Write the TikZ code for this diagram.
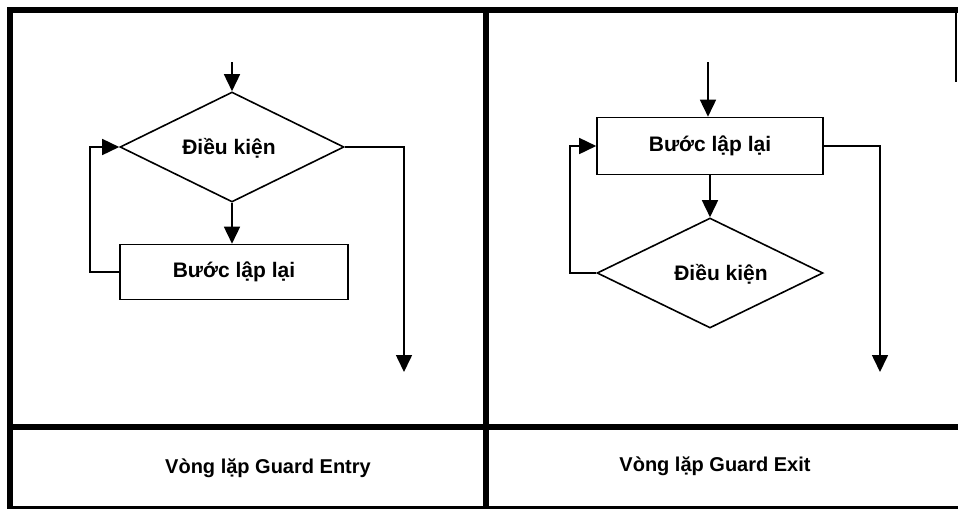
\documentclass[tikz,border=0pt]{standalone}
\usepackage{fontspec}
\setmainfont{Liberation Sans}
\usetikzlibrary{shapes.geometric,arrows.meta}
\newcommand{\flatlabel}[2][0pt]{\smash{\raisebox{-0.34em}{\makebox[0pt]{\hspace*{#1}#2}}}}
\begin{document}
\begin{tikzpicture}[x=1pt,y=-1pt,
  thin line/.style={line width=1.6pt},
  arr/.style={thin line,-{Triangle[length=17pt,width=16pt]}},
  frame/.style={line width=6.5pt},
  lbl/.style={font=\bfseries\fontsize{21}{24}\selectfont},
  captext/.style={font=\bfseries\fontsize{20}{23}\selectfont},
  dia/.style={diamond,draw,thin line,inner sep=0pt,minimum width=224pt,minimum height=110pt,lbl},
  blk/.style={rectangle,draw,thin line,inner sep=0pt,lbl}]
\useasboundingbox (0,0) rectangle (958,512);
% frame
\draw[frame] (7,10) -- (958,10);
\draw[frame] (10,7) -- (10,509);
\draw[frame] (486,7) -- (486,509);
\draw[frame] (7,427) -- (958,427);
\draw[line width=3pt] (8,507.5) -- (958,507.5);
\draw[line width=2pt] (956,10) -- (956,82);
% left panel: guard entry
\node[dia] (dL) at (232,147) {\flatlabel[-6pt]{Điều kiện}};
\node[blk,minimum width=228pt,minimum height=55pt] (bL) at (234,272) {Bước lập lại};
\coordinate (inL) at (232,62);
\coordinate (outL) at (404,372);
\draw[arr] (inL) -- (dL.north);
\draw[arr] (dL.south) -- (bL.north -| dL.south);
\draw[arr] (bL.west) -- ++(-29,0) |- (dL.west);
\draw[arr] (dL.east) -| (outL);
% right panel: guard exit
\node[blk,minimum width=226pt,minimum height=57pt] (bR) at (710,146) {Bước lập lại};
\node[dia,minimum width=226pt] (dR) at (710,273) {\flatlabel[22pt]{Điều kiện}};
\coordinate (inR) at (708,62);
\coordinate (outR) at (880,372);
\draw[arr] (inR) -- (bR.north -| inR);
\draw[arr] (bR.south -| dR.north) -- (dR.north);
\draw[arr] (dR.west) -- ++(-26,0) |- (bR.west);
\draw[arr] (bR.east) -| (outR);
% captions
\node[captext] (cL) at (268,468) {Vòng lặp Guard Entry};
\node[captext] (cR) at (715,466) {Vòng lặp Guard Exit};
\end{tikzpicture}
\end{document}
